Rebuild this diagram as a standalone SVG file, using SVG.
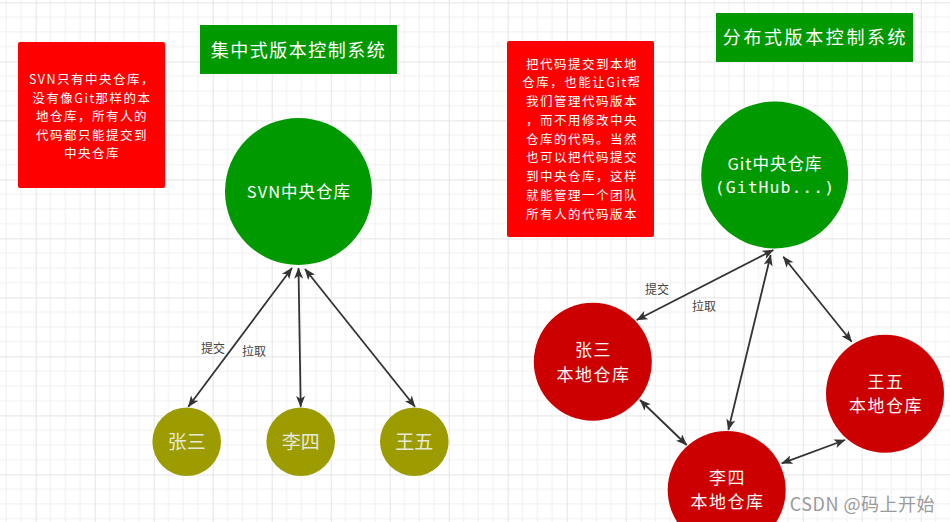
<svg xmlns="http://www.w3.org/2000/svg" width="950" height="522" viewBox="0 0 950 522">
<style>
.cjk{font-family:"Noto Sans CJK SC","Liberation Sans",sans-serif;}
.note{font-size:12.5px;fill:#ffffff;text-anchor:middle;letter-spacing:1.5px;}
.title{font-size:18px;fill:#ffffff;text-anchor:middle;}
.ctr{font-size:16.5px;fill:#ffffff;text-anchor:middle;letter-spacing:1px;}
.olive text{font-size:19px;fill:#e8e8d8;text-anchor:middle;}
.red text{font-size:17px;fill:#fff4f4;text-anchor:middle;letter-spacing:1.5px;}
.lbl{font-size:12px;fill:#444444;}
.conn line{stroke:#333333;stroke-width:1.8;marker-start:url(#ah);marker-end:url(#ah);}
</style>
<defs>
<pattern id="grid" x="35.7" y="2.4" width="59" height="59" patternUnits="userSpaceOnUse">
<path d="M14.75 0V59M29.5 0V59M44.25 0V59M0 14.75H59M0 29.5H59M0 44.25H59" stroke="#f0f0f0" stroke-width="1" fill="none"/>
<path d="M0.5 0V59M0 0.5H59" stroke="#e4e4e4" stroke-width="1" fill="none"/>
</pattern>
<marker id="ah" viewBox="0 0 10 8" refX="9.5" refY="4" markerWidth="12" markerHeight="9" markerUnits="userSpaceOnUse" orient="auto-start-reverse">
<path d="M0,0 L10,4 L0,8 L2.5,4 z" fill="#333333"/>
</marker>
</defs>
<rect width="950" height="522" fill="#ffffff"/>
<rect width="950" height="522" fill="url(#grid)"/>

<g id="note-left" class="cjk">
<rect x="18" y="42" width="147" height="146" rx="2" fill="#ff0000"/>
<text class="note" x="92" y="84">SVN只有中央仓库，</text>
<text class="note" x="92" y="102.5">没有像Git那样的本</text>
<text class="note" x="92" y="121">地仓库，所有人的</text>
<text class="note" x="92" y="139.5">代码都只能提交到</text>
<text class="note" x="92" y="158">中央仓库</text>
</g>

<g id="title-left" class="cjk">
<rect x="200" y="25" width="197" height="49" fill="#009900"/>
<text class="title" x="298.5" y="57" letter-spacing="1.5">集中式版本控制系统</text>
</g>

<g id="note-right" class="cjk">
<rect x="507" y="41" width="147" height="196" rx="2" fill="#ff0000"/>
<text class="note" x="582" y="68.5" letter-spacing="2">把代码提交到本地</text>
<text class="note" x="582" y="87.3" letter-spacing="2">仓库，也能让Git帮</text>
<text class="note" x="582" y="106" letter-spacing="2">我们管理代码版本</text>
<text class="note" x="582" y="124.8" letter-spacing="2">，而不用修改中央</text>
<text class="note" x="582" y="143.5" letter-spacing="2">仓库的代码。当然</text>
<text class="note" x="582" y="162.3" letter-spacing="2">也可以把代码提交</text>
<text class="note" x="582" y="181" letter-spacing="2">到中央仓库，这样</text>
<text class="note" x="582" y="199.8" letter-spacing="2">就能管理一个团队</text>
<text class="note" x="582" y="218.5" letter-spacing="2">所有人的代码版本</text>
</g>

<g id="title-right" class="cjk">
<rect x="716" y="13" width="197" height="49" fill="#009900"/>
<text class="title" x="815.5" y="44" font-size="16.5" letter-spacing="2.6">分布式版本控制系统</text>
</g>

<g id="svn-central" class="cjk">
<circle cx="298.5" cy="191.5" r="73.5" fill="#009900"/>
<text class="ctr" x="299" y="198">SVN中央仓库</text>
</g>

<g id="git-central" class="cjk">
<circle cx="774.7" cy="175" r="73.5" fill="#009900"/>
<text class="ctr" x="775" y="169.5" letter-spacing="2">Git中央仓库</text>
<text class="ctr" x="775" y="193" font-family="'DejaVu Sans Mono','Liberation Mono',monospace" font-size="17">(GitHub...)</text>
</g>

<g id="svn-zhangsan" class="olive cjk">
<circle cx="186.7" cy="441.7" r="34.3" fill="#9c9c00"/>
<text x="186.7" y="448.5">张三</text>
</g>
<g id="svn-lisi" class="olive cjk">
<circle cx="300.7" cy="441.7" r="34.3" fill="#9c9c00"/>
<text x="300.7" y="448.5">李四</text>
</g>
<g id="svn-wangwu" class="olive cjk">
<circle cx="414.3" cy="441.7" r="34.3" fill="#9c9c00"/>
<text x="414.3" y="448.5">王五</text>
</g>

<g id="git-zhangsan" class="red cjk">
<circle cx="592.8" cy="361.8" r="59" fill="#cc0000"/>
<text x="593.5" y="356">张三</text>
<text x="593.5" y="381">本地仓库</text>
</g>
<g id="git-wangwu" class="red cjk">
<circle cx="885" cy="393.7" r="59" fill="#cc0000"/>
<text x="886" y="387.5">王五</text>
<text x="886" y="411.5">本地仓库</text>
</g>
<g id="git-lisi" class="red cjk">
<circle cx="726.7" cy="490" r="59" fill="#cc0000"/>
<text x="727.5" y="483.5">李四</text>
<text x="727.5" y="507.5">本地仓库</text>
</g>

<g id="connectors" class="conn">
<line x1="292" y1="268" x2="188.3" y2="406.7"/>
<line x1="298.5" y1="268" x2="300.7" y2="406.7"/>
<line x1="305" y1="269" x2="415" y2="406.7"/>
<line x1="773.3" y1="250" x2="636.7" y2="320"/>
<line x1="770.7" y1="255" x2="728.3" y2="430"/>
<line x1="783.3" y1="256.7" x2="851.7" y2="341.7"/>
<line x1="640" y1="400" x2="686.7" y2="445"/>
<line x1="781.7" y1="463.3" x2="845" y2="440"/>
</g>

<g id="labels" class="cjk">
<text class="lbl" x="201" y="352.5">提交</text>
<text class="lbl" x="242" y="356">拉取</text>
<text class="lbl" x="645" y="293.5">提交</text>
<text class="lbl" x="692" y="311">拉取</text>
</g>

<text x="935" y="511" text-anchor="end" font-family="'Noto Sans CJK SC','Liberation Sans',sans-serif" font-size="18" letter-spacing="0.5" fill="#9a9a9a" stroke="#ffffff" stroke-width="0.4" paint-order="stroke">CSDN @码上开始</text>
</svg>
